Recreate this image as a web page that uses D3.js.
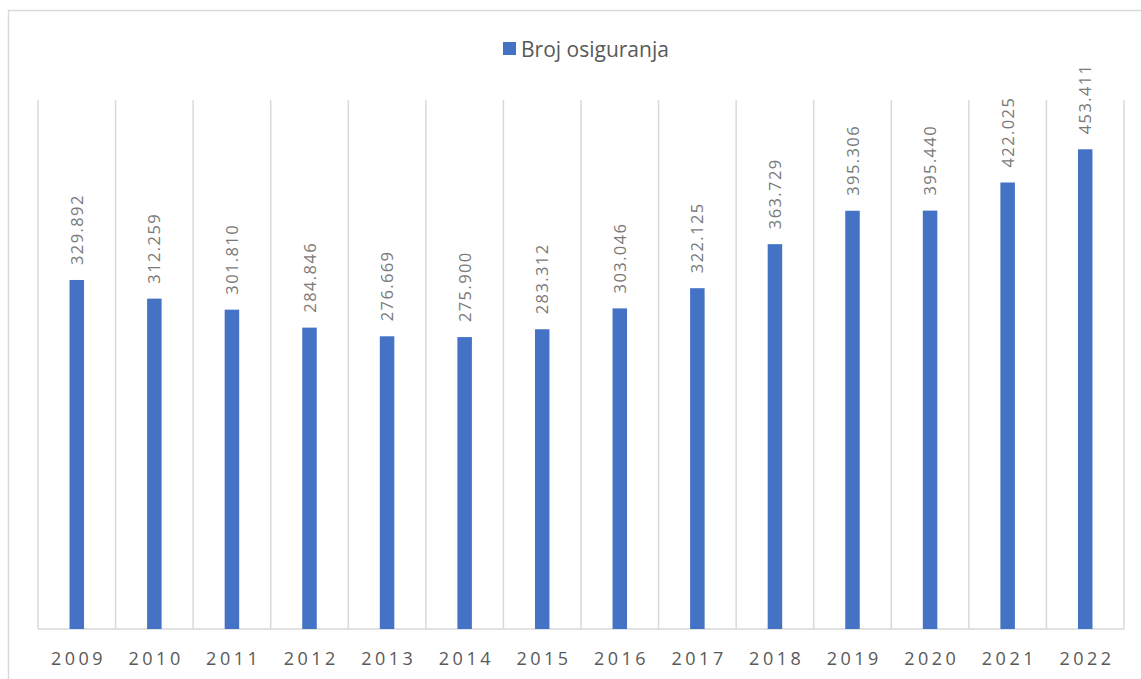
<!DOCTYPE html>
<html>
<head>
<meta charset="utf-8">
<script src="https://cdn.jsdelivr.net/npm/d3@7"></script>
<style>
  html, body { margin: 0; padding: 0; background: #fff; }
  svg { display: block; font-family: "Open Sans", "Liberation Sans", sans-serif; }
</style>
</head>
<body>
<svg id="chart" width="1141" height="679"></svg>
<script>
const years = ["2009","2010","2011","2012","2013","2014","2015","2016","2017","2018","2019","2020","2021","2022"];
const values = [329892, 312259, 301810, 284846, 276669, 275900, 283312, 303046, 322125, 363729, 395306, 395440, 422025, 453411];
const valueLabels = ["329.892","312.259","301.810","284.846","276.669","275.900","283.312","303.046","322.125","363.729","395.306","395.440","422.025","453.411"];
const seriesName = "Broj osiguranja";

const svg = d3.select("#chart");
const W = 1141, H = 679;
const plot = { left: 38, right: 1124, top: 100, bottom: 629 };
const barColor = "#4472C4";
const gridColor = "#d9d9d9";

// outer chart border
svg.append("rect")
  .attr("x", 8.5).attr("y", 10.5)
  .attr("width", W + 10).attr("height", H + 10)
  .attr("fill", "none").attr("stroke", gridColor).attr("stroke-width", 1.5);

const x = d3.scaleBand().domain(years).range([plot.left, plot.right]).paddingInner(0).paddingOuter(0);
const y = d3.scaleLinear().domain([0, 500000]).range([plot.bottom, plot.top]);

// vertical category gridlines
const bounds = years.map(d => x(d)).concat([x(years[years.length - 1]) + x.bandwidth()]);
svg.append("g").selectAll("line").data(bounds).join("line")
  .attr("x1", d => d).attr("x2", d => d)
  .attr("y1", plot.top).attr("y2", plot.bottom)
  .attr("stroke", gridColor).attr("stroke-width", 1.5);

// baseline
svg.append("line")
  .attr("x1", plot.left).attr("x2", plot.right)
  .attr("y1", plot.bottom).attr("y2", plot.bottom)
  .attr("stroke", gridColor).attr("stroke-width", 1.5);

const barW = 14.5;
svg.append("g").selectAll("rect").data(values).join("rect")
  .attr("x", (d, i) => x(years[i]) + x.bandwidth() / 2 - barW / 2)
  .attr("y", d => y(d))
  .attr("width", barW)
  .attr("height", d => y(0) - y(d))
  .attr("fill", barColor);

// data labels (rotated)
svg.append("g").selectAll("text").data(values).join("text")
  .attr("transform", (d, i) => `translate(${x(years[i]) + x.bandwidth() / 2 + 6},${y(d) - 15}) rotate(-90)`)
  .attr("text-anchor", "start")
  .attr("font-size", 16.5)
  .attr("letter-spacing", "1.4px")
  .attr("fill", "#7a7a7a")
  .text((d, i) => valueLabels[i]);

// x-axis labels
const xAxis = d3.axisBottom(x).tickSize(0).tickPadding(0);
const gx = svg.append("g").attr("transform", `translate(0,${plot.bottom})`).call(xAxis);
gx.select(".domain").remove();
gx.selectAll("text")
  .attr("y", 36)
  .attr("dy", 0)
  .attr("dx", "1.75px")
  .attr("font-size", 18)
  .attr("letter-spacing", "3.5px")
  .attr("font-family", "\"Open Sans\", sans-serif")
  .attr("fill", "#595959");

// legend
const lg = svg.append("g").attr("transform", "translate(503,42)");
lg.append("rect").attr("x", 0).attr("y", 0).attr("width", 13).attr("height", 13).attr("fill", barColor);
lg.append("text").attr("x", 18).attr("y", 14.5).attr("font-size", 21).attr("fill", "#595959").text(seriesName);
</script>
</body>
</html>
